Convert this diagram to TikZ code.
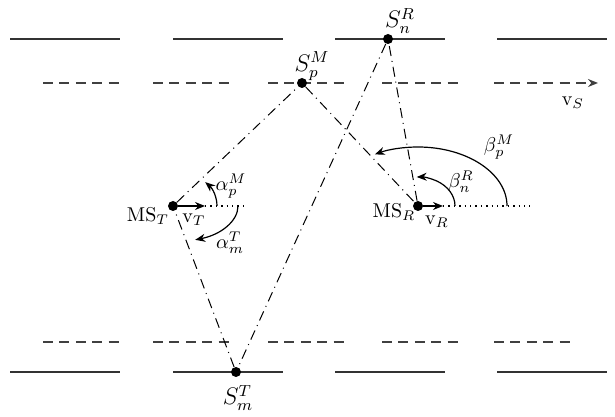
\documentclass[tikz,border=0pt]{standalone}
\usetikzlibrary{arrows.meta}
\begin{document}
\begin{tikzpicture}[x=0.5pt, y=0.5pt,
    dot/.style={circle, fill, inner sep=0pt, minimum size=5pt},
    lbl/.style={inner sep=1pt},
    lane/.style={black!80, line width=0.7pt},
    lanedash/.style={black!75, line width=0.85pt, dash pattern=on 5pt off 3.2pt},
    link/.style={line width=0.5pt, dash pattern=on 5pt off 2.5pt on 0.5pt off 2.5pt},
    ref/.style={dotted, line width=0.7pt},
    vel/.style={-{Stealth[length=5pt,width=4pt]}, line width=0.8pt},
    ang/.style={-{Stealth[length=5pt,width=4pt]}, line width=0.6pt}]
    \useasboundingbox (0,0) rectangle (615,417);

    \foreach \x in {10,173,335,497} {
        \draw[lane] (\x,378) -- ++(110,0);
        \draw[lane] (\x,45) -- ++(110,0);
    }
    \foreach \x in {43,153,268,382} {
        \draw[lanedash] (\x,334) -- ++(76,0);
        \draw[lanedash] (\x,75) -- ++(76,0);
    }
    \draw[lanedash] (494,75) -- ++(76,0);
    \coordinate (vs) at (598,334);
    \draw[lanedash, -{Stealth[length=5pt,width=4pt]}] (494,334) -- (vs);

    \node[dot] (mst) at (173,211) {};
    \node[dot] (msr) at (418,211) {};
    \node[dot] (sp) at (302,334) {};
    \node[dot] (sn) at (388,378) {};
    \node[dot] (sm) at (236,45) {};

    \draw[link] (mst) -- (sp) -- (msr) -- (sn) -- (sm) -- (mst);

    \coordinate (vt) at (205,211);
    \coordinate (vtend) at (248,211);
    \coordinate (vr) at (443,211);
    \coordinate (vrend) at (530,211);
    \draw[vel] (mst) -- (vt);
    \draw[ref] (vt) -- (vtend);
    \draw[vel] (msr) -- (vr);
    \draw[ref] (vr) -- (vrend);

    \draw[ang] (217,211) arc[start angle=0, end angle=43, x radius=44, y radius=35];
    \draw[ang] (238,211) arc[start angle=0, end angle=-70, x radius=65, y radius=36];
    \draw[ang] (455,211) arc[start angle=0, end angle=92, x radius=37, y radius=29];
    \draw[ang] (507,211) arc[start angle=0, end angle=119, x radius=89, y radius=59];

    \node[lbl] (mstl) at (148,201) {MS$_T$};
    \node[lbl] (vtl) at (194,197) {$\mathrm{v}_T$};
    \node[lbl] (apl) at (231,231) {$\alpha_p^M$};
    \node[lbl] (aml) at (230,174) {$\alpha_m^T$};
    \node[lbl] (msrl) at (394,205) {MS$_R$};
    \node[lbl] (vrl) at (437,195) {$\mathrm{v}_R$};
    \node[lbl] (bnl) at (461,235) {$\beta_n^R$};
    \node[lbl] (bpl) at (499,270) {$\beta_p^M$};
    \node[lbl] (vsl) at (573,314) {$\mathrm{v}_S$};
    \node[lbl, font=\large] (spl) at (312,351) {$S_p^M$};
    \node[lbl, font=\large] (snl) at (400,396) {$S_n^R$};
    \node[lbl, font=\large] (sml) at (238,19) {$S_m^T$};
\end{tikzpicture}
\end{document}
